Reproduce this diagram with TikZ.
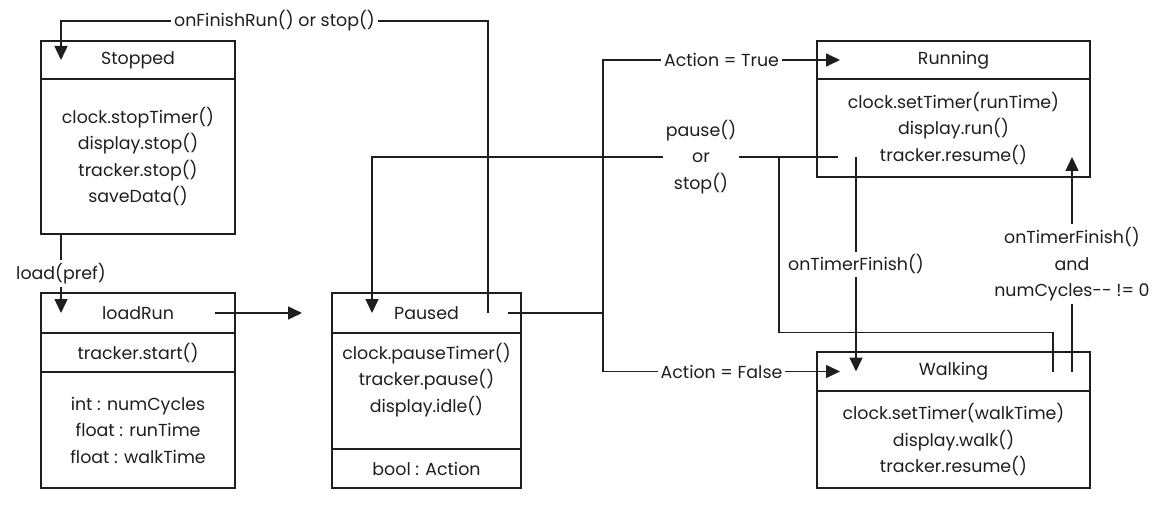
\documentclass[tikz,border=0pt]{standalone}
\usepackage{fontspec}
\setmainfont{Poppins}
\usepackage{tikz}
\usetikzlibrary{arrows.meta,positioning,calc}
\definecolor{ink}{HTML}{1E1E1E}

\begin{document}
\begin{tikzpicture}[x=1pt,y=-1pt,node distance=0pt,
  every node/.append style={font=\fontsize{17.4}{26.5}\selectfont,text=ink},
  box/.style={rectangle,draw=ink,line width=1.6pt,inner sep=0pt,outer sep=0pt,align=center},
  lbl/.style={fill=white,inner sep=3pt,align=center},
  ln/.style={line width=1.5pt,color=ink},
  arr/.style={-{Triangle[length=14pt,width=13pt]},line width=1.5pt,color=ink},
]
  \useasboundingbox (0,0) rectangle (1157,505);
  \node[box,minimum width=194,minimum height=38] (stopped) at (138,60) {Stopped};
  \node[box,minimum width=194,minimum height=155,below=of stopped] (stoppedb) {clock.stopTimer()\\display.stop()\\tracker.stop()\\saveData()};
  \node[box,minimum width=194,minimum height=40] (loadrun) at (138,313) {loadRun};
  \node[box,minimum width=194,minimum height=39,below=of loadrun] (loadrunm) {tracker.start()};
  \node[box,minimum width=194,minimum height=116,below=of loadrunm] (loadrunb) {int : numCycles\\float : runTime\\float : walkTime};
  \node[box,minimum width=189,minimum height=40] (paused) at (426.5,313) {Paused};
  \node[box,minimum width=189,minimum height=116,below=of paused] (pausedm) {clock.pauseTimer()\\tracker.pause()\\display.idle()\\\mbox{}};
  \node[box,minimum width=189,minimum height=39,below=of pausedm] (pausedb) {bool : Action};
  \node[box,minimum width=273,minimum height=38] (running) at (953.5,60) {Running};
  \node[box,minimum width=273,minimum height=98,below=of running] (runningb) {clock.setTimer(runTime)\\display.run()\\tracker.resume()};
  \node[box,minimum width=273,minimum height=39] (walking) at (953.5,371.5) {Walking};
  \node[box,minimum width=273,minimum height=97,below=of walking] (walkingb) {clock.setTimer(walkTime)\\display.walk()\\tracker.resume()};
  \coordinate (split) at ($(paused.east)+(82,0)$);
  \coordinate (pz) at ($(runningb.south west)+(21,-20)$);
  \coordinate (jn) at ($(pz)+(-59,0)$);
  \draw[arr] ($(paused.east)+(-33,0)$) |- node[lbl,pos=0.75]{onFinishRun() or stop()} ($(stopped.west)+(20,-39)$) -- ($(stopped.west)+(20,0)$);
  \draw[arr] ($(stoppedb.south west)+(20,0)$) -- node[lbl]{load(pref)} ($(loadrun.west)+(20,0)$);
  \draw[arr] ($(loadrun.east)+(-20,0)$) -- ($(paused.west)+(-30,0)$);
  \draw[ln] ($(paused.east)+(-13,0)$) -- (split);
  \draw[arr] (split) |- node[lbl,pos=0.75]{Action = True} ($(running.west)+(23,0)$);
  \draw[arr] (split) |- node[lbl,pos=0.75]{Action = False} ($(walking.west)+(23,0)$);
  \draw[arr] (pz) -| node[lbl,pos=0.147]{pause()\\or\\stop()} ($(paused.west)+(40,0)$);
  \draw[ln] ($(walking.east)+(-37,0)$) -- ++(0,-39) -| (jn);
  \draw[arr] ($(runningb.south west)+(39,-20)$) -- node[lbl]{onTimerFinish()} ($(walking.west)+(39,0)$);
  \draw[arr] ($(walking.east)+(-18,0)$) -- node[lbl]{onTimerFinish()\\and\\numCycles-{}- != 0} ($(runningb.south east)+(-18,-20)$);
\end{tikzpicture}
\end{document}
